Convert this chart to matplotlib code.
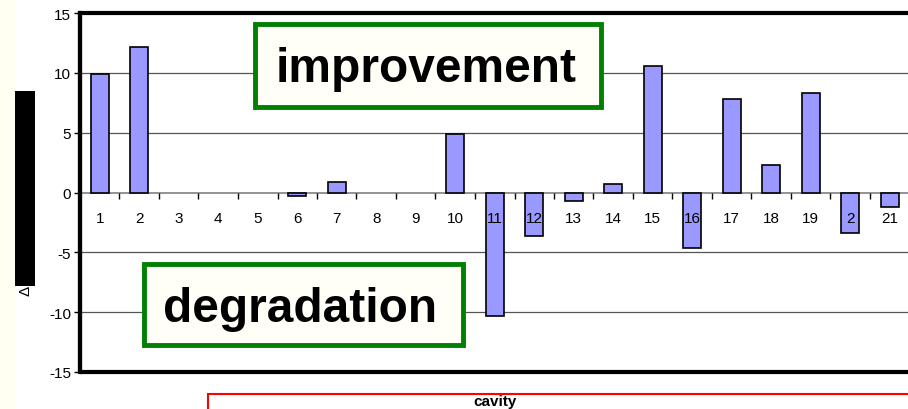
import matplotlib
matplotlib.use("Agg")
import matplotlib.pyplot as plt
from matplotlib.patches import Rectangle
import numpy as np

plt.rcParams['font.family'] = ['Liberation Sans', 'DejaVu Sans']

categories = list(range(1, 22))
tick_labels = ["1", "2", "3", "4", "5", "6", "7", "8", "9", "10", "11", "12",
               "13", "14", "15", "16", "17", "18", "19", "2", "21"]
values = [9.9, 12.2, 0, 0, 0, -0.3, 0.9, 0, 0, 4.9, -10.3, -3.6,
          -0.7, 0.75, 10.6, -4.6, 7.8, 2.3, 8.3, -3.4, -1.2]
yticks = [15, 10, 5, 0, -5, -10, -15]

W, H = 908, 410
fig = plt.figure(figsize=(W / 100, H / 100), dpi=100)
fig.patch.set_facecolor("white")
fig.add_artist(Rectangle((0, 0), 15 / W, 1, transform=fig.transFigure,
                         facecolor="#fffff2", edgecolor="none"))

left, right, top, bottom = 80 / W, 909.5 / W, 1 - 14 / H, 1 - 373 / H
ax = fig.add_axes([left, bottom, right - left, top - bottom])
ax.set_facecolor("white")
ax.set_axisbelow(False)

x = np.array(categories)
v = np.array(values)
nz = v != 0
ax.bar(x[nz], v[nz], width=0.46, color="#9999ff", edgecolor="black",
       linewidth=1.2, zorder=2)

ax.set_xlim(0.5, 21.5)
ax.set_ylim(-15, 15)

for yv in yticks:
    if yv not in (15, -15, 0):
        ax.axhline(yv, color="#555555", lw=0.9, zorder=1)

ax.spines['bottom'].set_position(('data', 0))
ax.spines['bottom'].set_color("#808080")
ax.spines['bottom'].set_linewidth(1.2)
ax.spines['bottom'].set_zorder(1.5)
ax.spines['top'].set_visible(False)
ax.spines['right'].set_visible(False)
ax.spines['left'].set_linewidth(3)
ax.spines['left'].set_color("black")

ax.set_xticks(x)
ax.set_xticklabels(tick_labels, fontsize=11)
ax.set_xticks(np.arange(0.5, 22, 1), minor=True)
ax.tick_params(axis='x', which='major', length=0, pad=13)
ax.tick_params(axis='x', which='minor', length=4.5, width=1, direction='out',
               color="black")

ax.set_yticks(yticks)
ax.set_yticklabels([str(t) for t in yticks], fontsize=11)
ax.tick_params(axis='y', length=4.5, width=1, pad=2, color="black")

ax.add_artist(Rectangle((0, 0), 1, 1, transform=ax.transAxes, fill=False,
                        edgecolor="black", lw=3, clip_on=False, zorder=6))

# y-label (redacted)
fig.add_artist(Rectangle((15 / W, 1 - 287 / H), 20 / W, 195 / H,
                         transform=fig.transFigure, facecolor="black",
                         edgecolor="none"))
fig.text(25 / W, 1 - 291 / H, "Δ", rotation=90, ha="center", va="center",
         fontsize=11)

def fbox(x0, y0, x1, y1, ec, lw, fc="none"):
    fig.add_artist(Rectangle((x0 / W, 1 - y1 / H), (x1 - x0) / W, (y1 - y0) / H,
                             transform=fig.transFigure, facecolor=fc,
                             edgecolor=ec, lw=lw, zorder=7))

fbox(255, 25, 601, 108, "#008000", 3.5, "#fffff7")
fig.text(426 / W, 1 - 82 / H, "improvement", ha="center", va="baseline",
         fontsize=34.5, fontweight="bold", zorder=8)
fbox(144, 265, 463, 346, "#008000", 3.5, "#fffff7")
fig.text(300 / W, 1 - 322 / H, "degradation", ha="center", va="baseline",
         fontsize=34.5, fontweight="bold", zorder=8)

# x-label in red box
fbox(208, 395, 1000, 440, "red", 1.5)
fig.text(495 / W, 1 - 409 / H, "cavity", ha="center", va="bottom",
         fontsize=11, fontweight="bold")

fig.savefig("out.png", dpi=100)
